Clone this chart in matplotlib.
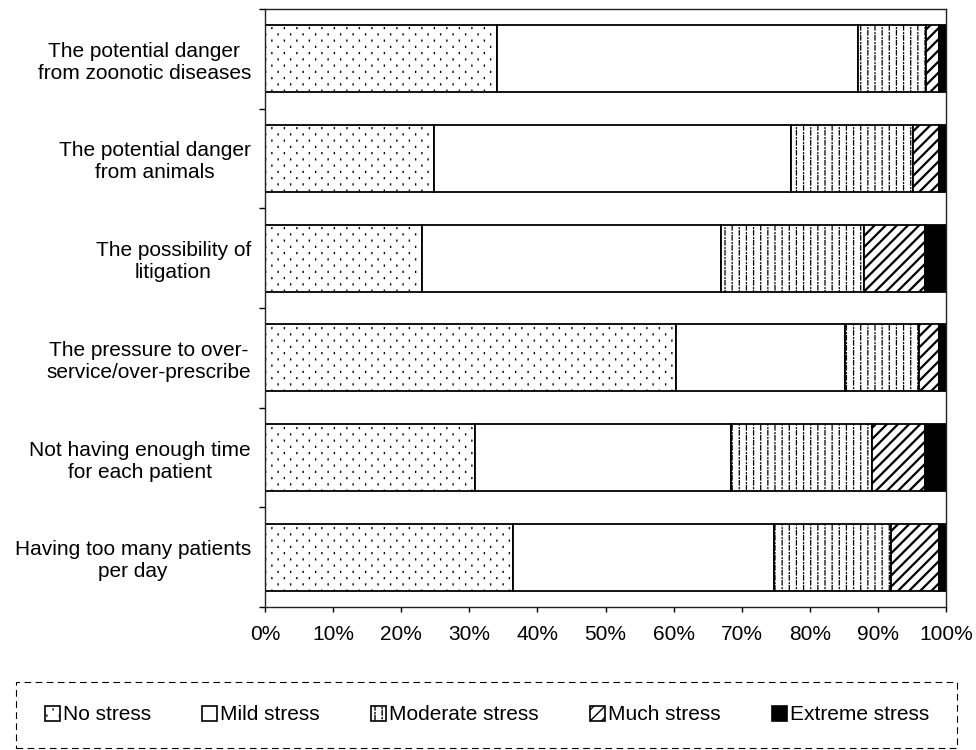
import numpy as np
import matplotlib
matplotlib.use("Agg")
import matplotlib.pyplot as plt
import matplotlib.hatch as mhatch
from matplotlib.patches import Patch, Rectangle
from matplotlib.path import Path

# ---------------- data ----------------
categories = [
    "The potential danger\nfrom zoonotic diseases",
    "The potential danger\nfrom animals",
    "The possibility of\nlitigation",
    "The pressure to over-\nservice/over-prescribe",
    "Not having enough time\nfor each patient",
    "Having too many patients\nper day",
]
series_names = ["No stress", "Mild stress", "Moderate stress", "Much stress", "Extreme stress"]
no_stress = [34.0, 24.8, 23.1, 60.4, 30.8, 36.4]
mild_stress = [53.1, 52.5, 43.9, 24.7, 37.6, 38.4]
moderate_stress = [9.9, 17.8, 21.0, 10.9, 20.7, 17.1]
much_stress = [2.0, 3.9, 8.9, 2.9, 7.8, 7.0]
extreme_stress = [1.0, 1.0, 3.1, 1.1, 3.1, 1.1]
x_ticks = [0, 10, 20, 30, 40, 50, 60, 70, 80, 90, 100]
x_tick_labels = ["0%", "10%", "20%", "30%", "40%", "50%", "60%", "70%", "80%", "90%", "100%"]


# ---------------- custom hatch patterns (style only) ----------------
class SparseDots(mhatch.HatchPatternBase):
    """'o' -> sparse staggered dot lattice."""
    def __init__(self, hatch, density):
        self.on = hatch.count("o") > 0
        self.ncol, self.nrow = 8, 16
        self.num_vertices = self.ncol * (self.nrow + 2) * 2 if self.on else 0

    def set_vertices_and_codes(self, vertices, codes):
        pts = []
        for r in range(-1, self.nrow + 1):
            for c in range(self.ncol):
                x = (c + 0.25 + 0.5 * (r % 2)) / self.ncol
                y = (r + 0.5) / self.nrow
                pts.append((x, y - 0.004))
                pts.append((x, y + 0.004))
        vertices[:] = np.array(pts)
        codes[0::2] = Path.MOVETO
        codes[1::2] = Path.LINETO


class DashDots(mhatch.HatchPatternBase):
    """'*' -> staggered short vertical dashes with dots."""
    def __init__(self, hatch, density):
        self.on = hatch.count("*") > 0
        self.ncol, self.nrow = 14, 10
        self.num_vertices = self.ncol * (self.nrow + 2) * 4 if self.on else 0

    def set_vertices_and_codes(self, vertices, codes):
        pts = []
        for c in range(self.ncol):
            x = (c + 0.5) / self.ncol
            for r in range(-1, self.nrow + 1):
                y = (r + 0.5 * (c % 2)) / self.nrow
                pts += [(x, y), (x, y + 0.045), (x, y + 0.066), (x, y + 0.073)]
        vertices[:] = np.array(pts)
        codes[0::2] = Path.MOVETO
        codes[1::2] = Path.LINETO


mhatch._hatch_types = [t for t in mhatch._hatch_types
                       if t not in (mhatch.Stars, mhatch.SmallCircles)] + [SparseDots, DashDots]

plt.rcParams["font.family"] = ["Liberation Sans", "DejaVu Sans"]
plt.rcParams["hatch.color"] = "black"

fig = plt.figure(figsize=(9.76, 7.5), dpi=100)
ax = fig.add_axes([265 / 976, 1 - 607 / 750, 681 / 976, 598 / 750])

series = [no_stress, mild_stress, moderate_stress, much_stress, extreme_stress]
hatches = ["o", None, "*", "///", None]
faces = ["white", "white", "white", "white", "black"]
hatch_lw = [1.0, 1.0, 0.9, 1.6, 1.0]

y = np.arange(len(categories))
left = np.zeros(len(categories))
for vals, name, h, fc, hlw in zip(series, series_names, hatches, faces, hatch_lw):
    bars = ax.barh(y, vals, left=left, height=0.67, color=fc, edgecolor="black",
                   linewidth=1.3, hatch=h, label=name, zorder=2)
    for p in bars:
        if hasattr(p, "set_hatch_linewidth"):
            p.set_hatch_linewidth(hlw)
    left = left + np.array(vals)

ax.set_xlim(0, 100)
ax.set_ylim(len(categories) - 0.5, -0.5)
ax.set_xticks(x_ticks, x_tick_labels)
ax.set_yticks(y, categories)
for t in ax.get_yticklabels():
    t.set_multialignment("center")
ax.set_yticks(np.arange(-0.5, len(categories), 1), minor=True)
ax.tick_params(axis="y", which="major", length=0, pad=10, labelsize=15)
ax.tick_params(axis="y", which="minor", length=4.3, width=1, direction="out")
ax.tick_params(axis="x", which="major", length=3.6, width=1, direction="out",
               pad=9, labelsize=15)
for s in ax.spines.values():
    s.set_linewidth(1.0)
    s.set_color("#222222")

handles = [Patch(facecolor=fc, edgecolor="black", hatch=h, linewidth=1.2)
           for h, fc in zip(hatches, faces)]
fig.legend(handles, series_names, loc="center", bbox_to_anchor=(487 / 976, 1 - 715 / 750),
           ncol=5, frameon=False, handlelength=0.72, handleheight=0.72,
           handletextpad=0.15, columnspacing=2.45, fontsize=15)
fig.add_artist(Rectangle((16 / 976, 1 - 748 / 750), (957 - 16) / 976, (748 - 682) / 750,
                         transform=fig.transFigure, fill=False, linestyle=(0, (6, 4)),
                         linewidth=0.8, edgecolor="black"))

fig.savefig("out.png", dpi=100)
